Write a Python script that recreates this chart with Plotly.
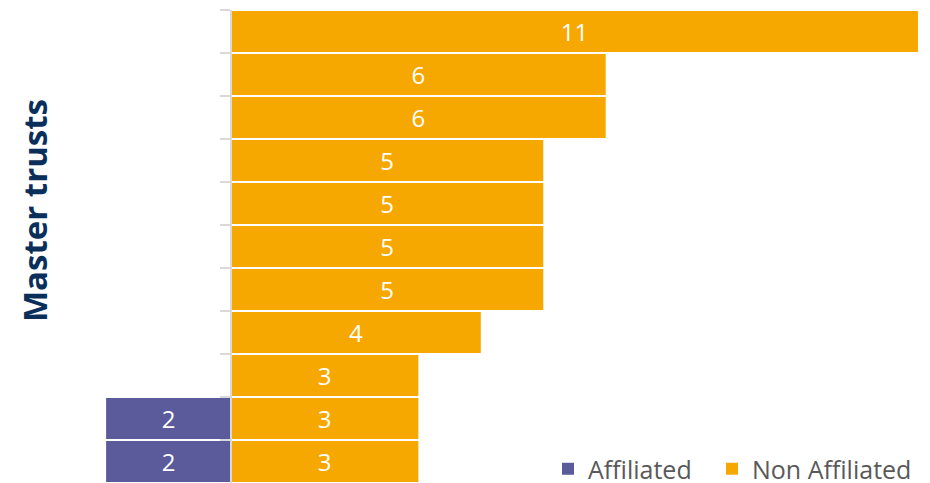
import plotly.graph_objects as go

trusts = [f"Trust {i}" for i in range(1, 12)]
non_affiliated = [11, 6, 6, 5, 5, 5, 5, 4, 3, 3, 3]
affiliated = [None, None, None, None, None, None, None, None, None, 2, 2]

ORANGE = "#F6A800"
PURPLE = "#5B5B9B"
NAVY = "#0B2F5B"
FONT = "Open Sans"

W, H = 930, 483
ML, MR, MT, MB = 100, 5, 10, 0
PW, PH = W - ML - MR, H - MT - MB
px_per_unit = 62.45
zero_px = 231
left_val = -(zero_px - ML) / px_per_unit
right_val = (W - MR - zero_px) / px_per_unit
axis_pos = (zero_px - ML) / PW

fig = go.Figure()
fig.add_trace(go.Bar(
    name="Affiliated",
    legend="legend",
    y=trusts,
    x=[(-v if v is not None else None) for v in affiliated],
    text=[(str(v) if v is not None else "") for v in affiliated],
    textposition="inside",
    insidetextanchor="middle",
    textangle=0,
    textfont=dict(color="white", size=24, family=FONT),
    orientation="h",
    marker=dict(color=PURPLE, line=dict(width=0)),
    hoverinfo="skip",
))
fig.add_trace(go.Bar(
    name="Non Affiliated",
    legend="legend2",
    y=trusts,
    x=non_affiliated,
    text=[str(v) for v in non_affiliated],
    textposition="inside",
    insidetextanchor="middle",
    textangle=0,
    textfont=dict(color="white", size=24, family=FONT),
    orientation="h",
    marker=dict(color=ORANGE, line=dict(width=0)),
    hoverinfo="skip",
))

legend_common = dict(
    orientation="h",
    xanchor="left",
    y=(H - MB - 469) / PH,
    yanchor="middle",
    bgcolor="rgba(0,0,0,0)",
    font=dict(size=25, color="#595959", family=FONT),
)

fig.update_layout(
    width=W, height=H,
    margin=dict(l=ML, r=MR, t=MT, b=MB, autoexpand=False),
    barmode="relative",
    bargap=0.05,
    plot_bgcolor="white",
    paper_bgcolor="white",
    font=dict(family=FONT),
    xaxis=dict(range=[left_val, right_val], visible=False, fixedrange=True),
    yaxis=dict(
        autorange="reversed",
        anchor="free",
        position=axis_pos,
        showticklabels=False,
        ticks="outside",
        ticklen=10,
        tickwidth=2,
        tickcolor="#D9D9D9",
        tickson="boundaries",
        showline=True,
        linecolor="#D9D9D9",
        linewidth=2,
        showgrid=False,
        zeroline=False,
        fixedrange=True,
    ),
    legend=dict(x=(548 - ML) / PW, **legend_common),
    legend2=dict(x=(712 - ML) / PW, **legend_common),
    showlegend=True,
    annotations=[dict(
        text="<b>Master trusts</b>",
        x=(34 - ML) / PW, xref="paper", xanchor="center",
        y=(H - MB - 211) / PH, yref="paper", yanchor="middle",
        textangle=-90, showarrow=False,
        font=dict(size=33, color=NAVY, family=FONT),
    )],
)

fig.write_html(
    "out.html",
    config={"displayModeBar": False},
    post_script="document.body.style.margin='0';document.body.style.overflow='hidden';",
)
